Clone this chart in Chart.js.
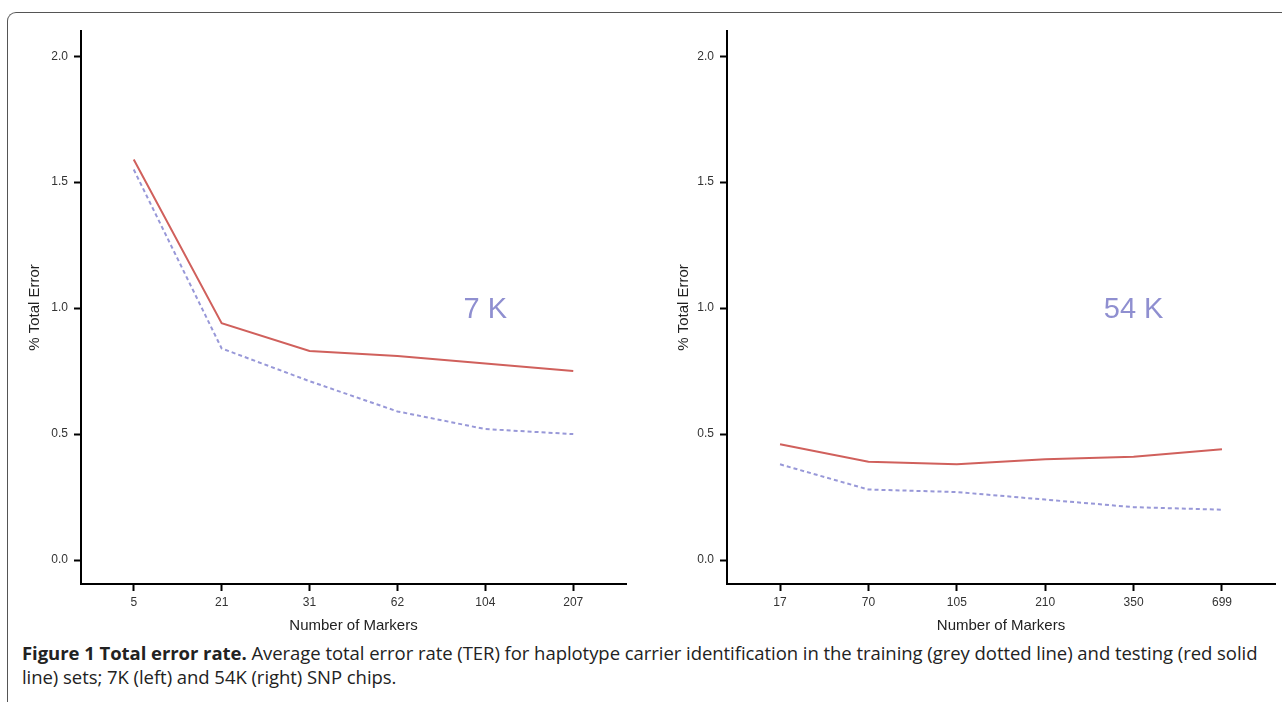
<!DOCTYPE html>
<html>
<head>
<meta charset="utf-8">
<script src="https://cdn.jsdelivr.net/npm/chart.js@4.4.1/dist/chart.umd.min.js"></script>
<style>
  html, body { margin: 0; padding: 0; background: #fff; overflow: hidden; }
  body { width: 1282px; height: 702px; position: relative; }
  #frame {
    position: absolute; left: 7px; top: 12px; width: 1300px; height: 720px;
    border-top: 1px solid #555; border-left: 1px solid #555;
    border-top-left-radius: 9px;
  }
  #left-wrap { position: absolute; left: 0; top: 0; width: 640px; height: 640px; }
  #right-wrap { position: absolute; left: 640px; top: 0; width: 642px; height: 640px; }
  #caption {
    position: absolute; left: 22px; top: 641px; width: 1256px;
    font-family: "Open Sans", "Noto Sans", sans-serif; font-size: 18.5px;
    line-height: 24px; color: #222; letter-spacing: -0.05px;
  }
  #caption b { font-weight: 700; }
</style>
</head>
<body>
<div id="frame"></div>
<div id="left-wrap"><canvas id="chart7k" width="640" height="640"></canvas></div>
<div id="right-wrap"><canvas id="chart54k" width="642" height="640"></canvas></div>
<div id="caption"><b>Figure 1 Total error rate.</b> Average total error rate (TER) for haplotype carrier identification in the training (grey dotted line) and testing (red solid line) sets; 7K (left) and 54K (right) SNP chips.</div>

<script>
// markers per panel (x tick labels)
const markers7k = ['5', '21', '31', '62', '104', '207'];
const markers54k = ['17', '70', '105', '210', '350', '699'];

// % total error
const testing7k = [1.59, 0.94, 0.83, 0.81, 0.78, 0.75];   // red solid
const training7k = [1.55, 0.84, 0.71, 0.59, 0.52, 0.50];  // grey/blue dotted
const testing54k = [0.46, 0.39, 0.38, 0.40, 0.41, 0.44];
const training54k = [0.38, 0.28, 0.27, 0.24, 0.21, 0.20];

const yTicks = [0, 0.5, 1.0, 1.5, 2.0];

const RED = '#d0605c';
const BLUE = '#9898d8';
const FONT = '"Liberation Sans", Arial, sans-serif';

// text label inside the plot ("7 K", "54 K")
const panelLabel = {
  id: 'panelLabel',
  afterDatasetsDraw(chart, args, opts) {
    const { ctx, scales } = chart;
    const x = scales.x.getPixelForValue(opts.x);
    const y = scales.y.getPixelForValue(opts.y);
    ctx.save();
    ctx.font = '29px ' + FONT;
    ctx.fillStyle = '#8f8fd0';
    ctx.textAlign = 'center';
    ctx.textBaseline = 'middle';
    ctx.fillText(opts.text, x, y + 2);
    ctx.restore();
  }
};

function makeChart(id, labels, testing, training, text, padLeft, yWidth, padRight) {
  const toPts = arr => arr.map((v, i) => ({ x: i, y: v }));
  return new Chart(document.getElementById(id), {
    type: 'line',
    data: {
      datasets: [
        {
          label: 'testing',
          data: toPts(testing),
          borderColor: RED,
          borderWidth: 2,
          pointRadius: 0,
          tension: 0
        },
        {
          label: 'training',
          data: toPts(training),
          borderColor: BLUE,
          borderWidth: 2,
          borderDash: [4, 3],
          pointRadius: 0,
          tension: 0
        }
      ]
    },
    options: {
      responsive: false,
      animation: false,
      layout: { padding: { left: padLeft, top: 31, right: padRight, bottom: 4 } },
      plugins: {
        legend: { display: false },
        tooltip: { enabled: false },
        panelLabel: { text: text, x: 4, y: 1.0 }
      },
      scales: {
        x: {
          type: 'linear',
          min: -0.6,
          max: 5.6,
          afterFit: s => { s.height = 52; },
          afterBuildTicks: s => { s.ticks = labels.map((_, i) => ({ value: i })); },
          ticks: {
            callback: v => labels[v],
            font: { family: FONT, size: 12 },
            color: '#333',
            padding: 4,
            maxRotation: 0
          },
          grid: {
            drawOnChartArea: false,
            drawTicks: true,
            tickLength: 7,
            tickWidth: 2,
            tickColor: '#000'
          },
          border: { display: true, color: '#000', width: 2 },
          title: {
            display: true,
            text: 'Number of Markers',
            font: { family: FONT, size: 15 },
            color: '#222',
            padding: { top: 0, bottom: 1 }
          }
        },
        y: {
          min: -0.095,
          max: 2.1,
          afterFit: s => { s.width = yWidth; },
          afterBuildTicks: s => { s.ticks = yTicks.map(v => ({ value: v })); },
          ticks: {
            callback: v => v.toFixed(1),
            font: { family: FONT, size: 12 },
            color: '#333',
            padding: 6
          },
          grid: {
            drawOnChartArea: false,
            drawTicks: true,
            tickLength: 7,
            tickWidth: 2,
            tickColor: '#000'
          },
          border: { display: true, color: '#000', width: 2 },
          title: {
            display: true,
            text: '% Total Error',
            font: { family: FONT, size: 15 },
            color: '#222',
            padding: { top: 0, bottom: 0 }
          }
        }
      }
    },
    plugins: [panelLabel]
  });
}

makeChart('chart7k', markers7k, testing7k, training7k, '7 K', 26, 55, 14);
makeChart('chart54k', markers54k, testing54k, training54k, '54 K', 35, 52, 7);
</script>
</body>
</html>
